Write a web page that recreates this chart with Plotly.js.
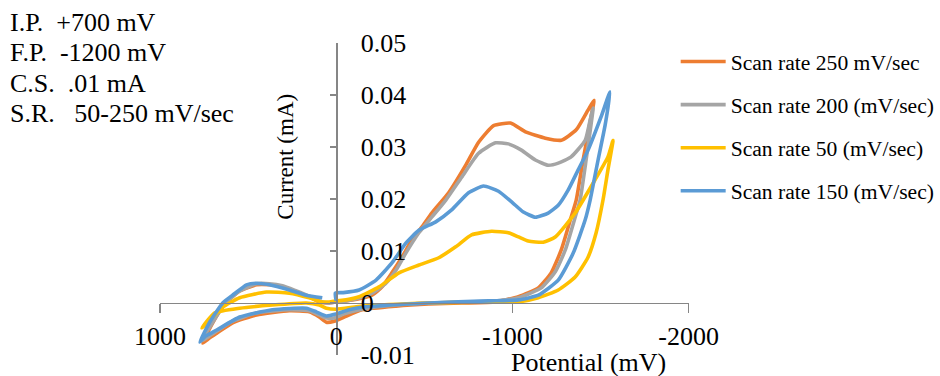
<!DOCTYPE html>
<html>
<head>
<meta charset="utf-8">
<script src="https://cdn.plot.ly/plotly-3.0.1.min.js"></script>
<style>html,body{margin:0;padding:0;background:#fff;}#chart{width:940px;height:376px;}</style>
</head>
<body>
<div id="chart"></div>
<script>
// Series names
const seriesNames = ["Scan rate 250 mV/sec", "Scan rate 200 (mV/sec)", "Scan rate 50 (mV/sec)", "Scan rate 150 (mV/sec)"];

// Scan rate 250 mV/sec
const x250 = [40,96,153,226,305,379,452,548,633,701,757,718,678,588,452,266,153,96,56,11,-45,-147,-339,-525,-712,-904,-1034,-1147,-1220,-1277,-1333,-1362,-1401,-1446,-1463,-1429,-1362,-1277,-1187,-1074,-989,-893,-808,-735,-638,-542,-486,-429,-373,-316,-260,-203,-130,-56,0,40];
const y250 = [0,0.0002,0.0012,0.0021,0.0031,0.0035,0.0035,0.0023,-0.0002,-0.0038,-0.0077,-0.0067,-0.0058,-0.0038,-0.0023,-0.0015,-0.0017,-0.0027,-0.0037,-0.0035,-0.0027,-0.0013,-0.0006,-0.0002,0,0.0002,0.0012,0.0029,0.0058,0.0102,0.0165,0.0198,0.0275,0.0358,0.039,0.0371,0.0333,0.0313,0.0317,0.0329,0.0346,0.0341,0.0309,0.0265,0.0212,0.0173,0.0146,0.0121,0.0088,0.0058,0.0031,0.0015,0.0008,0.0004,0.0002,0];

// Scan rate 200 (mV/sec)
const x200 = [40,96,153,226,305,379,452,548,633,701,763,718,678,588,452,266,153,96,56,11,-45,-147,-339,-525,-712,-904,-1034,-1164,-1243,-1300,-1356,-1384,-1418,-1458,-1441,-1413,-1333,-1260,-1203,-1130,-1051,-977,-904,-808,-712,-622,-542,-469,-395,-339,-282,-203,-113,-56,0,40];
const y200 = [0,0.0004,0.0013,0.0023,0.0033,0.0037,0.0037,0.0023,-0.0002,-0.0037,-0.0073,-0.0063,-0.0054,-0.0035,-0.0019,-0.0013,-0.0015,-0.0023,-0.0029,-0.0029,-0.0021,-0.0012,-0.0004,0,0.0002,0.0004,0.001,0.0029,0.006,0.0102,0.0165,0.0198,0.0275,0.0375,0.0352,0.0313,0.0281,0.0269,0.0265,0.0275,0.0294,0.0306,0.0308,0.0288,0.0242,0.0198,0.0165,0.0135,0.0096,0.0063,0.0038,0.0019,0.0008,0.0004,0.0002,0];

// Scan rate 50 (mV/sec)
const x50 = [40,79,153,266,396,548,644,706,763,689,548,362,170,96,56,0,-147,-525,-904,-1034,-1147,-1260,-1356,-1429,-1475,-1514,-1542,-1571,-1542,-1469,-1356,-1243,-1175,-1090,-1034,-977,-881,-768,-678,-582,-469,-356,-243,-130,-56,0,40];
const y50 = [0.0002,0.0002,0.001,0.0019,0.0021,0.001,-0.0008,-0.0029,-0.0048,-0.0019,-0.001,-0.0004,0,-0.0004,-0.001,-0.0012,-0.0006,0,0.0002,0.0002,0.001,0.0025,0.005,0.0088,0.0135,0.0198,0.0256,0.0313,0.0281,0.0237,0.0173,0.0127,0.0117,0.0119,0.0127,0.0135,0.0138,0.0131,0.0108,0.0087,0.0073,0.0058,0.0031,0.0012,0.0006,0.0004,0.0002];

// Scan rate 150 (mV/sec)
const x150 = [79,170,266,379,452,509,588,644,718,774,746,678,548,362,170,113,56,0,-73,-147,-525,-864,-1034,-1147,-1260,-1345,-1413,-1441,-1486,-1526,-1554,-1503,-1429,-1373,-1316,-1260,-1203,-1130,-1062,-1000,-921,-836,-751,-655,-565,-469,-395,-316,-226,-130,-40,5,0];
const y150 = [0.001,0.0015,0.0025,0.0035,0.0038,0.0035,0.0015,0,-0.0037,-0.0075,-0.0065,-0.0052,-0.0027,-0.0013,-0.001,-0.0017,-0.0025,-0.0021,-0.0013,-0.0008,0,0.0004,0.0006,0.0015,0.0044,0.0096,0.016,0.0198,0.0275,0.0342,0.0406,0.0358,0.0294,0.0256,0.0217,0.0188,0.0173,0.0165,0.0175,0.0193,0.0215,0.0225,0.0212,0.0179,0.0156,0.014,0.0115,0.0077,0.0044,0.0025,0.002,0.0019,0.0004];

const xTickVals = [1000, 0, -1000, -2000];
const xTickText = ["1000", "0", "-1000", "-2000"];
const yTickVals = [-0.01, 0, 0.01, 0.02, 0.03, 0.04, 0.05];
const yTickText = ["-0.01", "0", "0.01", "0.02", "0.03", "0.04", "0.05"];

const infoLines = ["I.P.\u00a0\u00a0+700 mV", "F.P.\u00a0\u00a0-1200 mV", "C.S.\u00a0\u00a0.01 mA", "S.R.\u00a0\u00a0\u00a050-250 mV/sec"];

const colors = ["#ED7D31", "#A5A5A5", "#FFC000", "#5B9BD5"];
const xs = [x250, x200, x50, x150];
const ys = [y250, y200, y50, y150];

const FONT = "Liberation Serif, Times New Roman, serif";

const traces = seriesNames.map((n, i) => ({
  type: "scatter", mode: "lines", name: n,
  x: xs[i], y: ys[i],
  legendgroup: "g" + i,
  line: {color: colors[i], width: 3.6, shape: "spline", smoothing: 0.5},
  hoverinfo: "skip"
}));

// plot area: 160..690 px wide inside a 780 px paper width (margin r = 0)
const W = 780;
const px = p => (p - 160) / W;
const py = p => (355 - p) / 312;
const xDomEnd = 530 / W;

const xr = [1000, -2000], yr = [-0.01, 0.05];

const annotations = [
  {text: "Potential (mV)", xref: "paper", yref: "paper", x: px(590), y: py(362),
   xanchor: "center", yanchor: "middle", showarrow: false,
   font: {family: FONT, size: 26, color: "#000"}},
  {text: "Current (mA)", xref: "paper", yref: "paper", x: px(285), y: py(157),
   xanchor: "center", yanchor: "middle", showarrow: false, textangle: -90,
   font: {family: FONT, size: 23, color: "#000"}}
];
const infoY = [22, 52, 83, 113];
infoLines.forEach((t, i) => annotations.push({
  text: t, xref: "paper", yref: "paper", x: px(8), y: py(infoY[i]),
  xanchor: "left", yanchor: "middle", align: "left", showarrow: false,
  font: {family: FONT, size: 26, color: "#000"}
}));

const layout = {
  width: 940, height: 376,
  margin: {l: 160, r: 0, t: 43, b: 21},
  paper_bgcolor: "#ffffff", plot_bgcolor: "#ffffff",
  font: {family: FONT, size: 26, color: "#000"},
  showlegend: true,
  legend: {
    x: px(677), y: py(41), xanchor: "left", yanchor: "top",
    font: {family: FONT, size: 21.6, color: "#000"},
    tracegroupgap: 12, itemwidth: 45, traceorder: "grouped",
    bgcolor: "rgba(0,0,0,0)"
  },
  xaxis: {
    domain: [0, xDomEnd],
    range: xr, anchor: "free", position: (0 - yr[0]) / (yr[1] - yr[0]),
    showgrid: false, zeroline: false, showline: true,
    linecolor: "#868686", linewidth: 1.3,
    ticks: "outside", ticklen: 9, tickcolor: "#868686", tickwidth: 1.3,
    tickvals: xTickVals, ticktext: xTickText,
    tickfont: {family: FONT, size: 26, color: "#000"}
  },
  yaxis: {
    domain: [0, 1],
    range: yr, anchor: "free", position: xDomEnd * (xr[0] - 0) / (xr[0] - xr[1]),
    side: "right",
    showgrid: false, zeroline: false, showline: true,
    linecolor: "#868686", linewidth: 1.3,
    ticks: "inside", ticklen: 6, tickcolor: "#868686", tickwidth: 1.3,
    tickvals: yTickVals, ticktext: yTickText,
    ticklabelstandoff: 18,
    tickfont: {family: FONT, size: 26, color: "#000"}
  },
  annotations: annotations
};

Plotly.newPlot("chart", traces, layout, {displayModeBar: false, staticPlot: true});
</script>
</body>
</html>
